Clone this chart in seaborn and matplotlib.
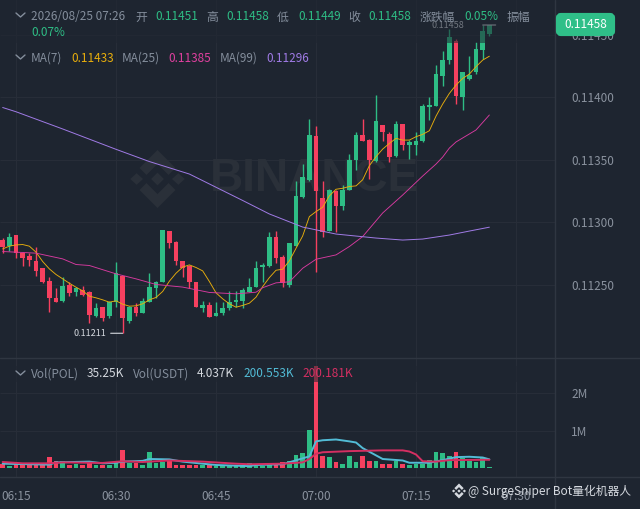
# Recreate the POL/USDT 1m candlestick chart with MA lines and volume panel
import matplotlib
matplotlib.use('Agg')
import matplotlib.pyplot as plt
import matplotlib.transforms as mtrans
from matplotlib.lines import Line2D
from matplotlib.patches import Polygon, Rectangle, FancyBboxPatch
import numpy as np
import pandas as pd
import seaborn as sns

# candle values, one per minute starting 06:13
opens = [.11286,.11281,.11290,.11275,.11273,.11269,.11263,.11253,.11239,.11237,
         .11250,.11244,.11246,.11244,.11225,.11232,.11225,.11236,.11257,.11221,
         .11232,.11227,.11236,.11247,.11252,.11293,.11284,.11269,.11265,.11252,
         .11231,.11234,.11225,.11227,.11231,.11236,.11237,.11244,.11248,.11264,
         .11265,.11288,.11272,.11250,.11281,.11320,.11334,.11369,.11319,.11293,
         .11325,.11313,.11326,.11350,.11370,.11366,.11349,.11378,.11371,.11353,
         .11379,.11362,.11362,.11365,.11392,.11393,.11417,.11430,.11445,.11400,
         .11415,.11420,.11438,.11451]
closes = [.11280,.11288,.11275,.11271,.11270,.11261,.11252,.11239,.11236,.11249,
          .11243,.11247,.11242,.11226,.11231,.11223,.11236,.11259,.11223,.11232,
          .11227,.11237,.11248,.11252,.11294,.11283,.11269,.11263,.11252,.11232,
          .11234,.11224,.11227,.11231,.11236,.11238,.11246,.11248,.11263,.11266,
          .11288,.11271,.11251,.11283,.11321,.11336,.11370,.11325,.11292,.11326,
          .11313,.11326,.11350,.11370,.11365,.11350,.11381,.11372,.11352,.11379,
          .11362,.11364,.11365,.11393,.11394,.11419,.11430,.11448,.11401,.11420,
          .11418,.11439,.11453,.11458]
highs = [.11287,.11291,.11290,.11276,.11275,.11280,.11263,.11256,.11247,.11256,
         .11252,.11248,.11249,.11245,.11235,.11232,.11237,.11268,.11257,.11233,
         .11235,.11239,.11259,.11253,.11294,.11293,.11285,.11269,.11266,.11252,
         .11237,.11236,.11236,.11236,.11245,.11245,.11247,.11255,.11269,.11267,
         .11292,.11293,.11274,.11283,.11333,.11347,.11383,.11377,.11333,.11327,
         .11326,.11330,.11355,.11372,.11383,.11367,.11402,.11378,.11372,.11381,
         .11379,.11366,.11372,.11395,.11400,.11426,.11437,.11455,.11447,.11420,
         .11433,.11444,.11458,.11458]
lows = [.11275,.11277,.11271,.11265,.11265,.11257,.11251,.11228,.11236,.11236,
        .11241,.11241,.11241,.11219,.11224,.11221,.11223,.11232,.11211,.11219,
        .11225,.11227,.11236,.11239,.11252,.11279,.11266,.11256,.11247,.11232,
        .11228,.11224,.11225,.11226,.11230,.11232,.11231,.11244,.11248,.11252,
        .11264,.11267,.11248,.11248,.11281,.11319,.11333,.11260,.11288,.11293,
        .11292,.11310,.11326,.11342,.11365,.11335,.11348,.11365,.11348,.11352,
        .11358,.11351,.11354,.11364,.11382,.11393,.11409,.11427,.11395,.11390,
        .11414,.11419,.11431,.11449]
volumes = [.10,.06,.115,.08,.10,.08,.08,.30,.18,.20,
           .08,.10,.08,.20,.08,.08,.08,.20,.49,.14,
           .14,.07,.44,.14,.16,.23,.09,.08,.08,.09,
           .09,.08,.05,.05,.05,.05,.05,.14,.06,.05,
           .13,.13,.16,.18,.36,.40,1.02,2.71,.31,.29,
           .15,.11,.33,.16,.31,.18,.18,.11,.12,.18,
           .12,.09,.11,.11,.22,.42,.40,.33,.44,.27,
           .18,.16,.27,.04]

ma7 = [.112786,.112808,.112818,.112821,.112808,.11276,.112685,.112626,.112581,.112546,
       .112511,.112479,.11245,.112407,.112394,.112378,.112359,.11237,.112343,.112327,
       .11233,.112346,.112378,.112397,.112445,.112527,.112591,.11264,.112658,.112637,
       .11261,.112525,.112434,.112386,.112346,.112319,.112333,.112351,.112399,.112484,
       .112556,.112615,.112623,.11269,.112791,.11289,.113045,.113085,.11312,.113211,
       .113264,.113272,.113286,.113291,.11334,.113453,.113525,.113586,.113631,.113672,
       .113658,.113658,.113685,.113704,.113733,.11385,.113947,.114032,.114099,.114152,
       .114187,.114246,.114299,.11433]
ma25_idx = [0,5,9,11,13,17,20,23,27,31,35,38,39,41,43,45,47,50,52,54,57,60,63,65,66,67,68,71,73]
ma25 = [.112765,.112752,.112706,.112661,.112653,.112586,.112546,.112501,.11248,.112437,
        .112426,.112439,.112475,.112514,.112522,.112631,.112703,.112738,.112805,.112885,
        .113074,.113218,.11337,.113466,.113522,.113594,.113643,.113739,.113859]
ma99_idx = [0,2,9,17,22,28,36,40,45,50,56,60,63,67,70,73]
ma99 = [.113919,.113885,.113747,.113584,.113486,.113386,.113174,.113066,.112961,
        .112905,.112873,.112857,.112865,.112897,.112929,.11296]

vol_cyan_idx = [0,7,8,13,15,17,18,21,22,25,27,30,32,37,38,40,42,46,47,48,50,52,53,54,57,60,61,64,66,68,70,72,73]
vol_cyan = [.115,.09,.15,.17,.125,.14,.17,.19,.24,.23,.17,.115,.08,.05,.08,.09,.10,.31,.71,.74,.76,.71,.68,.53,.24,.20,.14,.14,.21,.29,.30,.28,.23]
vol_red_idx = [0,3,7,9,15,18,21,25,30,35,37,42,45,46,47,48,52,57,60,61,62,63,65,67,73]
vol_red = [.16,.125,.125,.15,.135,.18,.16,.20,.17,.115,.10,.115,.15,.24,.38,.42,.45,.47,.47,.44,.36,.18,.17,.21,.22]

price_ticks = [.11250,.11300,.11350,.11400,.11450]
price_labels = ['0.11250','0.11300','0.11350','0.11400','0.11450']
vol_ticks = [1,2]
vol_labels = ['1M','2M']
time_idx = [2,17,32,47,62,77]
time_labels = ['06:15','06:30','06:45','07:00','07:15','07:30']

BG = '#1e2530'
GRID = '#272d38'
EDGE = '#2f3641'
GREEN = '#2ebd85'
RED = '#f6405f'
GREY = '#848e9c'
LIGHT = '#d5d9df'
W, H = 640, 509

sns.set_theme(style='dark')
plt.rcParams['font.family'] = ['Noto Sans CJK SC', 'DejaVu Sans']
plt.rcParams['axes.unicode_minus'] = False

fig = plt.figure(figsize=(W / 100, H / 100), dpi=100, facecolor=BG)
ax = fig.add_axes([0, 1 - 358 / H, 1, 358 / H], facecolor=BG)
ax_vol = fig.add_axes([0, 1 - 477 / H, 1, 119 / H], facecolor=BG)

# pixel coordinates of the 640x509 picture, y going down
px = mtrans.Affine2D().scale(1 / W, -1 / H).translate(0, 1) + fig.transFigure

df = pd.DataFrame({'i': np.arange(len(opens)), 'open': opens, 'close': closes,
                   'high': highs, 'low': lows, 'volume': volumes})
df['up'] = df['close'] >= df['open']
df['color'] = df['up'].map({True: GREEN, False: RED})

# watermark sits behind everything
def logo(target, cx, cy, r, color, zorder=0.6):
    shapes = [
        [(0, -.22), (.22, 0), (0, .22), (-.22, 0)],
        [(-.72, -.2), (-.5, 0), (-.72, .2), (-.94, 0)],
        [(.72, -.2), (.94, 0), (.72, .2), (.5, 0)],
        [(0, -1), (.62, -.38), (.38, -.14), (0, -.52), (-.38, -.14), (-.62, -.38)],
        [(0, 1), (.62, .38), (.38, .14), (0, .52), (-.38, .14), (-.62, .38)],
    ]
    for s in shapes:
        pts = [(cx + a * r, cy + b * r) for a, b in s]
        target.add_artist(Polygon(pts, closed=True, facecolor=color, edgecolor='none',
                                  transform=px, zorder=zorder, clip_on=False))

logo(ax, 157.5, 179, 29, '#2a3039')
ax.text(314, 179, 'BINANCE', transform=px, color='#2a3039', fontsize=33, fontweight='bold',
        ha='center', va='center', zorder=0.6, family='Liberation Sans')

# candles
ax.vlines(df['i'], df['low'], df['high'], colors=df['color'], lw=1, zorder=2)
ax.bar(df['i'], (df['close'] - df['open']).abs().clip(lower=0.00001),
       bottom=df[['open', 'close']].min(axis=1), width=0.72, color=df['color'],
       edgecolor='none', zorder=3)

# moving averages
sns.lineplot(x=df['i'], y=ma7, ax=ax, color='#e8ae0c', lw=0.65, errorbar=None, zorder=4)
sns.lineplot(x=ma25_idx, y=ma25, ax=ax, color='#d83aa0', lw=0.65, errorbar=None, zorder=4)
sns.lineplot(x=ma99_idx, y=ma99, ax=ax, color='#a07be6', lw=0.7, errorbar=None, zorder=4)

# volume bars and their averages
sns.barplot(data=df, x='i', y='volume', hue='up', palette={True: GREEN, False: RED},
            native_scale=True, dodge=False, legend=False, width=0.68, saturation=1,
            errorbar=None, edgecolor='none', ax=ax_vol, zorder=3)
sns.lineplot(x=vol_cyan_idx, y=vol_cyan, ax=ax_vol, color='#52bcd6', lw=1.4, errorbar=None, zorder=4)
sns.lineplot(x=vol_red_idx, y=vol_red, ax=ax_vol, color='#d42f62', lw=1.4, errorbar=None, zorder=5)

# index scale: 6.667 px per minute, first candle at 2.67 px
x_panel = (555 - 2.67) / 6.667
for a in (ax, ax_vol):
    a.set_xlim(-2.67 / 6.667, (W - 2.67) / 6.667)
    a.set_xticks(time_idx)
    a.grid(True, axis='x', color=GRID, lw=0.8)
    a.set_axisbelow(True)
    a.set_xlabel('')
    a.set_ylabel('')
    for s in a.spines.values():
        s.set_visible(False)
    a.tick_params(axis='y', labelleft=False, labelright=True, left=False, right=False,
                  colors='#8a929e', labelsize=8.5, pad=-55.5)
    a.tick_params(axis='x', bottom=False, labelbottom=False)

ax.set_ylim(.1145 - 323 * 8.013e-6, .1145 + 35 * 8.013e-6)
ax.set_yticks(price_ticks, price_labels)
ax.hlines(price_ticks, ax.get_xlim()[0], x_panel, color=GRID, lw=0.8, zorder=0.5)
ax_vol.set_ylim(-9 / 37.5, 110 / 37.5)
ax_vol.set_yticks(vol_ticks, vol_labels)
ax_vol.hlines(vol_ticks, ax_vol.get_xlim()[0], x_panel, color=GRID, lw=0.8, zorder=0.5)
ax_vol.set_xticks(time_idx, time_labels)
ax_vol.tick_params(axis='x', labelbottom=True, colors='#8a929e', labelsize=8.5, pad=3)

# lowest and highest price marks
low_i = int(np.argmin(lows))
ax.annotate('0.11211', xy=(low_i, lows[low_i]), xytext=(-16, 0), textcoords='offset pixels',
            ha='right', va='center', color=LIGHT, fontsize=6.5, zorder=6)
ax.annotate('', xy=(low_i, lows[low_i]), xytext=(-12, 0), textcoords='offset pixels',
            arrowprops=dict(arrowstyle='-', color=LIGHT, lw=0.8, shrinkA=0, shrinkB=0), zorder=6)
high_i = int(np.argmax(highs))
ax.annotate('0.11458', xy=(high_i, highs[high_i]), xytext=(-18, 0), textcoords='offset pixels',
            ha='right', va='center', color=LIGHT, fontsize=6.5, zorder=6)
ax.annotate('', xy=(high_i, highs[high_i]), xytext=(13, 0), textcoords='offset pixels',
            arrowprops=dict(arrowstyle='-', color=LIGHT, lw=0.8, shrinkA=0, shrinkB=0), zorder=6)

# dim bands under the legends, panel separators
fig.add_artist(Rectangle((0, 0), 555, 43, transform=px, facecolor=BG, alpha=0.55, edgecolor='none', zorder=1))
fig.add_artist(Rectangle((0, 366), 555, 16, transform=px, facecolor=BG, alpha=0.55, edgecolor='none', zorder=1))
for xy in [((0, W), (358, 358)), ((0, W), (477, 477)), ((555, 555), (0, H))]:
    fig.add_artist(Line2D(xy[0], xy[1], transform=px, color=EDGE, lw=1, zorder=1))

# legend text
def label(x, y, s, color=GREY, size=8.5, **kw):
    fig.text(x, y, s, transform=px, color=color, fontsize=size, va='center', zorder=3, **kw)

header = [(31, '2026/08/25 07:26', GREY), (135, '开', GREY), (155, '0.11451', GREEN),
          (206, '高', GREY), (226, '0.11458', GREEN), (277, '低', GREY), (298, '0.11449', GREEN),
          (348, '收', GREY), (368, '0.11458', GREEN), (420, '涨跌幅', GREY), (464, '0.05%', GREEN),
          (507, '振幅', GREY)]
for x, s, c in header:
    label(x, 17, s, c)
label(31, 33, '0.07%', GREEN)

ma_row = [(31, 'MA(7)', GREY), (71, '0.11433', '#e8ae0c'), (122, 'MA(25)', GREY),
          (168, '0.11385', '#e0409f'), (220, 'MA(99)', GREY), (266, '0.11296', '#a07be6')]
for x, s, c in ma_row:
    label(x, 58, s, c)

vol_row = [(31, 'Vol(POL)', GREY), (87, '35.25K', LIGHT), (133, 'Vol(USDT)', GREY),
           (197, '4.037K', LIGHT), (243, '200.553K', '#52bcd6'), (302, '200.181K', '#d42f62')]
for x, s, c in vol_row:
    label(x, 374, s, c)

# collapse chevrons
for y in (15, 57, 373):
    fig.add_artist(Line2D([16, 20.5, 25], [y - 2, y + 2, y - 2], transform=px, color=GREY, lw=1, zorder=3))

# current price tag
fig.add_artist(FancyBboxPatch((558, 15), 55, 19, boxstyle='round,pad=0,rounding_size=3', transform=px,
                              facecolor='#2fbf88', edgecolor='#2fbf88', lw=3, zorder=2))
label(585.5, 25, '0.11458', 'white', 8.5, ha='center')

# source mark at the bottom
logo(fig, 459, 491, 7.5, LIGHT, zorder=3)
label(468, 491, '@ SurgeSniper Bot量化机器人', LIGHT, 8.5)

fig.savefig('out.png', dpi=100, facecolor=BG)
